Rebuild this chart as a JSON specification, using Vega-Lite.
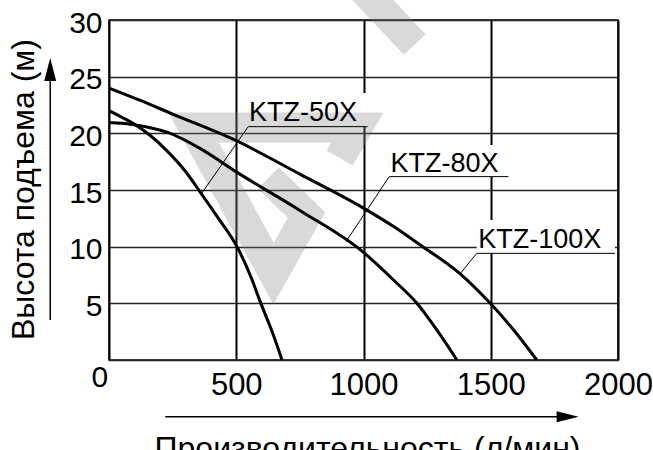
{
  "$schema": "https://vega.github.io/schema/vega-lite/v6.json",
  "width": 509,
  "height": 340,
  "autosize": {"type": "none"},
  "padding": {"left": 109, "top": 20, "right": 35, "bottom": 90},
  "background": "white",
  "config": {
    "view": {"stroke": "black", "strokeWidth": 1.5},
    "font": "Liberation Sans"
  },
  "datasets": {
    "curves": [
      {"series": "KTZ-50X", "x": 0, "y": 22.0},
      {"series": "KTZ-50X", "x": 50, "y": 21.42},
      {"series": "KTZ-50X", "x": 97, "y": 20.85},
      {"series": "KTZ-50X", "x": 160, "y": 19.85},
      {"series": "KTZ-50X", "x": 228, "y": 18.45},
      {"series": "KTZ-50X", "x": 300, "y": 16.65},
      {"series": "KTZ-50X", "x": 359, "y": 14.8},
      {"series": "KTZ-50X", "x": 430, "y": 12.5},
      {"series": "KTZ-50X", "x": 503, "y": 10.0},
      {"series": "KTZ-50X", "x": 560, "y": 7.2},
      {"series": "KTZ-50X", "x": 594, "y": 5.15},
      {"series": "KTZ-50X", "x": 640, "y": 2.55},
      {"series": "KTZ-50X", "x": 680, "y": 0},
      {"series": "KTZ-80X", "x": 0, "y": 20.95},
      {"series": "KTZ-80X", "x": 50, "y": 20.88},
      {"series": "KTZ-80X", "x": 97, "y": 20.75},
      {"series": "KTZ-80X", "x": 162, "y": 20.5},
      {"series": "KTZ-80X", "x": 228, "y": 20.1},
      {"series": "KTZ-80X", "x": 359, "y": 18.65},
      {"series": "KTZ-80X", "x": 500, "y": 16.6},
      {"series": "KTZ-80X", "x": 750, "y": 13.2},
      {"series": "KTZ-80X", "x": 1000, "y": 9.5},
      {"series": "KTZ-80X", "x": 1118, "y": 7.06},
      {"series": "KTZ-80X", "x": 1210, "y": 5.0},
      {"series": "KTZ-80X", "x": 1288, "y": 2.65},
      {"series": "KTZ-80X", "x": 1367, "y": 0},
      {"series": "KTZ-100X", "x": 0, "y": 24.0},
      {"series": "KTZ-100X", "x": 123, "y": 22.9},
      {"series": "KTZ-100X", "x": 250, "y": 21.7},
      {"series": "KTZ-100X", "x": 500, "y": 19.35},
      {"series": "KTZ-100X", "x": 750, "y": 16.4},
      {"series": "KTZ-100X", "x": 1000, "y": 13.4},
      {"series": "KTZ-100X", "x": 1120, "y": 11.75},
      {"series": "KTZ-100X", "x": 1223, "y": 10.15},
      {"series": "KTZ-100X", "x": 1380, "y": 7.6},
      {"series": "KTZ-100X", "x": 1498, "y": 5.0},
      {"series": "KTZ-100X", "x": 1590, "y": 2.65},
      {"series": "KTZ-100X", "x": 1681, "y": 0}
    ],
    "boxes": [
      {"x": 546, "x2": 1016, "y": 20.59, "y2": 23.56},
      {"x": 1104, "x2": 1568, "y": 16.18, "y2": 18.97},
      {"x": 1445, "x2": 1988, "y": 9.41, "y2": 12.36}
    ],
    "segments": [
      {"x": 547, "x2": 1016, "y": 20.59, "y2": 20.59},
      {"x": 1101, "x2": 1569, "y": 16.18, "y2": 16.18},
      {"x": 1445, "x2": 1988, "y": 9.41, "y2": 9.41},
      {"x": 364, "x2": 547, "y": 14.7, "y2": 20.59},
      {"x": 931, "x2": 1101, "y": 10.44, "y2": 16.18},
      {"x": 1379, "x2": 1445, "y": 7.6, "y2": 9.41}
    ],
    "arrows": [
      {"x": -231, "x2": -231, "y": 3.53, "y2": 24.6},
      {"x": 221, "x2": 1762, "y": -5.0, "y2": -5.0}
    ],
    "labels": [
      {"text": "KTZ-50X", "x": 550, "y": 21.12},
      {"text": "KTZ-80X", "x": 1106, "y": 16.56},
      {"text": "KTZ-100X", "x": 1451, "y": 9.86}
    ],
    "watermark": [
      {"part": "logo", "o": 1, "x": 906.3, "y": 17.82},
      {"part": "logo", "o": 2, "x": 976.2, "y": 20.52},
      {"part": "logo", "o": 3, "x": 332.0, "y": 20.52},
      {"part": "logo", "o": 4, "x": 646.6, "y": 7.62},
      {"part": "logo", "o": 5, "x": 776.3, "y": 12.79},
      {"part": "logo", "o": 6, "x": 625.8, "y": 16.06},
      {"part": "band", "o": 1, "x": 944.0, "y": 33.97},
      {"part": "band", "o": 2, "x": 1201.3, "y": 27.84}
    ]
  },
  "encoding": {
    "x": {
      "field": "x", "type": "quantitative",
      "scale": {"domain": [0, 2000], "nice": false, "zero": false},
      "axis": {
        "values": [0, 500, 1000, 1500, 2000],
        "format": "d",
        "labelExpr": "datum.value === 0 ? '' : datum.label",
        "grid": true, "gridColor": "black", "gridWidth": 2,
        "domain": false, "ticks": false,
        "labelFont": "Liberation Sans", "labelFontSize": 31, "labelColor": "black",
        "labelPadding": 10,
        "labelFlush": false, "labelOverlap": false, "labelBound": false,
        "title": "Производительность  (л/мин)",
        "titleFont": "Liberation Sans", "titleFontSize": 32, "titleFontWeight": "normal", "titleColor": "black",
        "titleX": 258, "titleY": 98, "titleAlign": "center", "titleBaseline": "alphabetic"
      }
    },
    "y": {
      "field": "y", "type": "quantitative",
      "scale": {"domain": [0, 30], "nice": false, "zero": false},
      "axis": {
        "values": [0, 5, 10, 15, 20, 25, 30],
        "format": "d",
        "labelExpr": "datum.value === 0 ? '' : datum.label",
        "grid": true, "gridColor": "#222222", "gridWidth": 1.4,
        "domain": false, "ticks": false,
        "labelFont": "Liberation Sans", "labelFontSize": 30, "labelColor": "black",
        "labelPadding": 7, "labelOffset": 3,
        "labelFlush": false, "labelOverlap": false, "labelBound": false,
        "title": "Высота подъема (м)",
        "titleFont": "Liberation Sans", "titleFontSize": 32, "titleFontWeight": "normal", "titleColor": "black",
        "titleAngle": 270, "titleX": -76, "titleY": 169, "titleAlign": "center", "titleBaseline": "alphabetic"
      }
    }
  },
  "layer": [
    {
      "data": {"name": "boxes"},
      "mark": {"type": "rect", "fill": "white", "strokeWidth": 0},
      "encoding": {
        "x2": {"field": "x2"},
        "y2": {"field": "y2"}
      }
    },
    {
      "data": {"name": "watermark"},
      "mark": {"type": "line", "color": "#808080", "opacity": 0.3, "strokeWidth": 30, "strokeJoin": "miter", "strokeCap": "butt", "strokeMiterLimit": 10, "clip": false},
      "encoding": {
        "detail": {"field": "part"},
        "order": {"field": "o"}
      }
    },
    {
      "data": {"name": "segments"},
      "mark": {"type": "rule", "color": "black", "strokeWidth": 1},
      "encoding": {
        "x2": {"field": "x2"},
        "y2": {"field": "y2"}
      }
    },
    {
      "data": {"name": "curves"},
      "mark": {"type": "line", "color": "black", "strokeWidth": 3, "interpolate": "monotone"},
      "encoding": {
        "detail": {"field": "series"}
      }
    },
    {
      "data": {"name": "labels"},
      "mark": {"type": "text", "font": "Liberation Sans", "fontSize": 27, "align": "left", "baseline": "alphabetic", "color": "black"},
      "encoding": {
        "text": {"field": "text"}
      }
    },
    {
      "data": {"values": [{"text": "0", "x": -36, "y": -2.38}]},
      "mark": {"type": "text", "font": "Liberation Sans", "fontSize": 30, "align": "center", "baseline": "alphabetic", "color": "black", "clip": false},
      "encoding": {
        "text": {"field": "text"}
      }
    },
    {
      "data": {"name": "arrows"},
      "mark": {"type": "rule", "color": "black", "strokeWidth": 1.5, "clip": false},
      "encoding": {
        "x2": {"field": "x2"},
        "y2": {"field": "y2"}
      }
    },
    {
      "data": {"values": [{"x": -231, "y": 25.63}]},
      "mark": {"type": "point", "shape": "M0,-1L0.52,1L-0.52,1Z", "size": 529, "filled": true, "color": "black", "opacity": 1, "strokeWidth": 0, "clip": false}
    },
    {
      "data": {"values": [{"x": 1802, "y": -5.0}]},
      "mark": {"type": "point", "shape": "M1,0L-1,-0.5L-1,0.5Z", "size": 484, "filled": true, "color": "black", "opacity": 1, "strokeWidth": 0, "clip": false}
    }
  ]
}
